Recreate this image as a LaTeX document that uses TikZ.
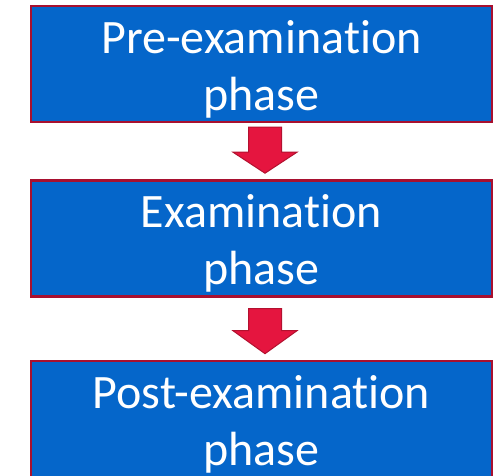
\documentclass[tikz,border=0pt]{standalone}
\usepackage{fontspec}
\setmainfont[Ligatures=NoCommon]{Carlito}
\usetikzlibrary{calc}

\definecolor{phaseblue}{HTML}{0566CA}
\definecolor{phaseedge}{HTML}{A8102F}
\definecolor{arrowfill}{HTML}{E5153F}
\definecolor{arrowedge}{HTML}{B3112F}

\tikzset{
  phasebox/.style={draw=phaseedge, line width=2.4pt, fill=phaseblue,
    minimum width=461pt, minimum height=116pt, inner sep=0pt},
  phasetext/.style={text=white, align=center, inner sep=0pt,
    font=\fontsize{48}{57}\selectfont},
  flowarrow/.style={fill=arrowfill, draw=arrowedge, line width=1pt,
    line join=miter}
}

\begin{document}
\begin{tikzpicture}[x=1pt, y=-1pt]
  \useasboundingbox (0,0) rectangle (496,475);
  \clip (0,0) rectangle (496,475);

  % the three phase boxes
  \node[phasebox] (b1) at (261.5,64) {};
  \node[phasebox] (b2) at (261.5,238.5) {};
  \node[phasebox] (b3) at (261.5,419) {};

  % their captions, set a little below each box centre
  \node[phasetext] (t1) at ($(b1.center)+(0,5)$) {Pre-examination\\phase};
  \node[phasetext] (t2) at ($(b2.center)+(0,5)$) {Examination\\phase};
  \node[phasetext] (t3) at ($(b3.center)+(0,5)$) {Post-examination\\phase};

  % block arrows between the boxes
  \coordinate (a1) at ($(b1.south)+(3.5,4)$);
  \coordinate (a2) at ($(b2.south)+(3.5,11)$);

  \draw[flowarrow] (a1) ++(-16.5,0) -- ++(33,0) -- ++(0,25) -- ++(15.5,0)
    -- ++(-32,21) -- ++(-32,-21) -- ++(15.5,0) -- cycle;
  \draw[flowarrow] (a2) ++(-16.5,0) -- ++(33,0) -- ++(0,22) -- ++(15.5,0)
    -- ++(-32,23) -- ++(-32,-23) -- ++(15.5,0) -- cycle;
\end{tikzpicture}
\end{document}
